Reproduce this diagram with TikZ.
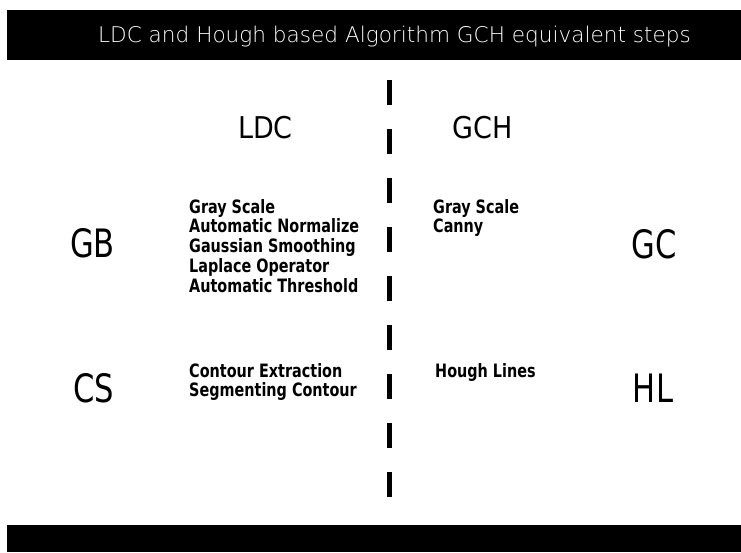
\documentclass[tikz,border=0pt]{standalone}
\usepackage{fontspec}
\setmainfont{DejaVu Sans}
\newfontfamily\condfont{DejaVu Sans Condensed}
\newfontfamily\thinfont{DejaVu Sans ExtraLight}
\usetikzlibrary{positioning}
\newcommand{\tallText}[1]{\scalebox{1}[1.15]{#1}}

\begin{document}
\begin{tikzpicture}[x=1pt,y=-1pt]

          \tikzstyle{barBox} = [fill=black, draw=none];
          \tikzstyle{titleNode} = [white, inner sep=0pt, anchor=base, font=\thinfont\fontsize{21.6}{24}\selectfont];
          \tikzstyle{headNode} = [black, inner sep=0pt, anchor=base, font=\condfont\fontsize{30}{34}\selectfont];
          \tikzstyle{stepNode} = [black, inner sep=0pt, anchor=base, font=\condfont\fontsize{34}{38}\selectfont];
          \tikzstyle{listNode} = [black, inner sep=0pt, anchor=base west,
                                  font=\condfont\bfseries\fontsize{16}{17}\selectfont];

          \tikzstyle{divider} = [line width=5pt, dash pattern=on 25pt off 24pt];

          \useasboundingbox (0,0) rectangle (741,552);

          % black bars
          \fill[barBox] (7,10) rectangle (741,60);
          \fill[barBox] (7,525) rectangle (741,552);

          \node[titleNode] (title) at (394.5,42) {LDC and Hough based Algorithm GCH equivalent steps};

          % middle dashed line
          \coordinate (divTop) at (389.5,80);
          \coordinate (divBot) at (389.5,500);
          \draw[divider] (divTop) -- (divBot);

          \node[headNode] (ldc) at (265.5,138) {LDC};
          \node[headNode] (gch) at (482.5,138) {GCH};

          \node[stepNode] (gb) at (92.5,257) {\tallText{GB}};
          \node[stepNode] (gc) at (654.5,258) {\tallText{GC}};
          \node[stepNode] (cs) at (94,402) {\tallText{CS}};
          \node[stepNode] (hl) at (653,402) {\tallText{HL}};

          \node[listNode] (ldcA) at (189,213) {\tallText{\begin{tabular}[t]{@{}l@{}}Gray Scale\\Automatic Normalize\\Gaussian Smoothing\\Laplace Operator\\Automatic Threshold\end{tabular}}};
          \node[listNode] (gchA) at (433,213) {\tallText{\begin{tabular}[t]{@{}l@{}}Gray Scale\\Canny\end{tabular}}};
          \node[listNode] (ldcB) at (189,377) {\tallText{\begin{tabular}[t]{@{}l@{}}Contour Extraction\\Segmenting Contour\end{tabular}}};
          \node[listNode] (gchB) at (435,377) {\tallText{Hough Lines}};
        \end{tikzpicture}
\end{document}
